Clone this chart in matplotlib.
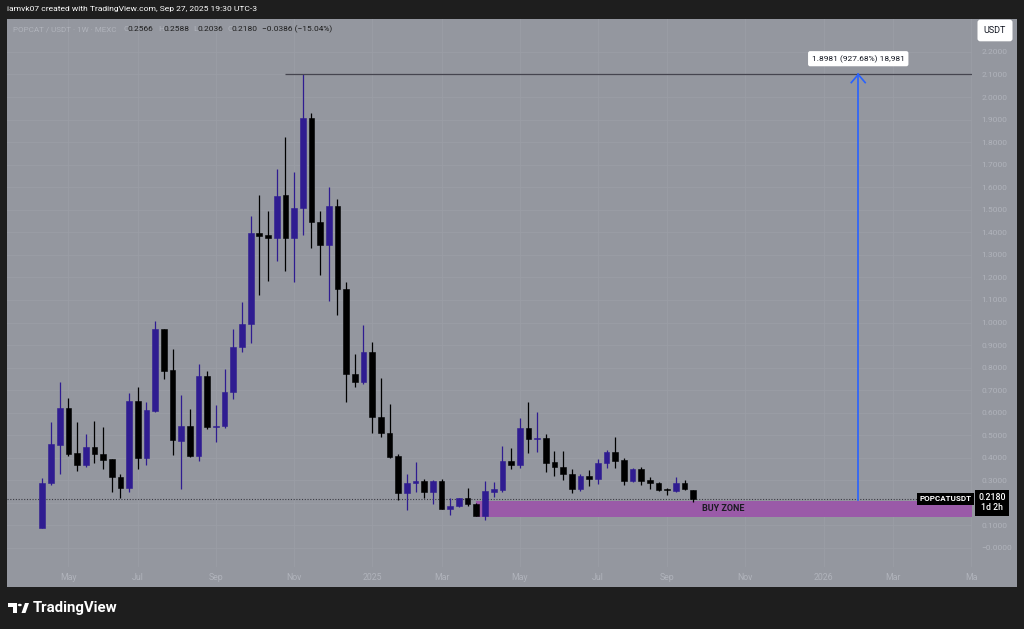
import numpy as np
import pandas as pd
import matplotlib
matplotlib.use("Agg")
import matplotlib.pyplot as plt
import matplotlib.dates as mdates
from matplotlib.patches import Rectangle, Polygon, Circle

plt.rcParams['font.family'] = ['Roboto', 'DejaVu Sans']

# weekly POPCAT / USDT candles (MEXC)
first_week = "2024-04-15"
opens = [0.090, 0.287, 0.458, 0.621, 0.420, 0.367, 0.449, 0.418, 0.393, 0.316,
         0.265, 0.652, 0.400, 0.609, 0.970, 0.788, 0.474, 0.542, 0.408, 0.764,
         0.536, 0.541, 0.692, 0.893, 0.992, 1.398, 1.387, 1.376, 1.567, 1.376,
         1.509, 1.906, 1.447, 1.344, 1.518, 1.147, 0.770, 0.735, 0.868, 0.582,
         0.511, 0.408, 0.245, 0.287, 0.298, 0.247, 0.296, 0.174, 0.186, 0.220,
         0.195, 0.142, 0.250, 0.257, 0.387, 0.367, 0.531, 0.483, 0.487, 0.380,
         0.361, 0.327, 0.262, 0.319, 0.306, 0.378, 0.424, 0.390, 0.298, 0.349,
         0.302, 0.287, 0.260, 0.254, 0.287, 0.2566]
highs = [0.309, 0.560, 0.735, 0.664, 0.559, 0.506, 0.565, 0.538, 0.395, 0.327,
         0.686, 0.715, 0.646, 1.007, 0.972, 0.882, 0.678, 0.616, 0.815, 0.786,
         0.634, 0.792, 0.971, 1.091, 1.472, 1.565, 1.494, 1.682, 1.821, 1.669,
         2.102, 1.931, 1.494, 1.602, 1.546, 1.181, 0.859, 0.989, 0.912, 0.755,
         0.639, 0.416, 0.327, 0.383, 0.306, 0.302, 0.305, 0.220, 0.222, 0.267,
         0.200, 0.297, 0.294, 0.454, 0.445, 0.578, 0.646, 0.602, 0.506, 0.431,
         0.430, 0.349, 0.327, 0.346, 0.395, 0.435, 0.494, 0.398, 0.353, 0.360,
         0.313, 0.291, 0.267, 0.316, 0.302, 0.2588]
lows = [0.088, 0.279, 0.328, 0.410, 0.341, 0.358, 0.376, 0.349, 0.247, 0.223,
        0.247, 0.349, 0.369, 0.604, 0.749, 0.412, 0.262, 0.402, 0.387, 0.528,
        0.471, 0.532, 0.662, 0.870, 0.908, 1.121, 1.183, 1.274, 1.230, 1.181,
        1.388, 1.329, 1.211, 1.097, 1.033, 0.649, 0.715, 0.726, 0.509, 0.494,
        0.398, 0.213, 0.169, 0.247, 0.223, 0.194, 0.172, 0.145, 0.180, 0.188,
        0.140, 0.124, 0.227, 0.250, 0.350, 0.356, 0.423, 0.427, 0.336, 0.321,
        0.302, 0.245, 0.253, 0.276, 0.284, 0.356, 0.353, 0.279, 0.291, 0.279,
        0.262, 0.254, 0.235, 0.250, 0.257, 0.2036]
closes = [0.290, 0.461, 0.621, 0.417, 0.367, 0.449, 0.418, 0.390, 0.315, 0.265,
          0.652, 0.400, 0.611, 0.970, 0.786, 0.478, 0.542, 0.408, 0.764, 0.535,
          0.541, 0.693, 0.893, 0.992, 1.398, 1.384, 1.373, 1.561, 1.376, 1.509,
          1.906, 1.447, 1.344, 1.518, 1.147, 0.770, 0.735, 0.868, 0.582, 0.511,
          0.405, 0.245, 0.287, 0.298, 0.247, 0.296, 0.174, 0.186, 0.220, 0.195,
          0.142, 0.253, 0.260, 0.387, 0.367, 0.531, 0.483, 0.487, 0.378, 0.361,
          0.327, 0.262, 0.319, 0.306, 0.378, 0.424, 0.387, 0.298, 0.349, 0.298,
          0.290, 0.257, 0.256, 0.287, 0.260, 0.2180]

month_ticks = ["2024-05-06", "2024-07-01", "2024-09-02", "2024-11-04", "2025-01-06",
               "2025-03-03", "2025-05-05", "2025-07-07", "2025-09-01", "2025-11-03",
               "2026-01-05", "2026-03-02", "2026-05-04"]
month_labels = ["May", "Jul", "Sep", "Nov", "2025", "Mar", "May", "Jul", "Sep",
                "Nov", "2026", "Mar", "Ma"]
price_ticks = [0.0, 0.1, 0.2, 0.3, 0.4, 0.5, 0.6, 0.7, 0.8, 0.9, 1.0, 1.1,
               1.2, 1.3, 1.4, 1.5, 1.6, 1.7, 1.8, 1.9, 2.0, 2.1, 2.2]
price_labels = ["\u22120.0000", "0.1000", ""] + ["%.4f" % v for v in price_ticks[3:]]

last_price = 0.2180
target_price = 2.1
target_start = "2024-10-28"
arrow_date = "2026-02-02"
arrow_base = 0.213
zone_start = "2025-03-31"
zone_low, zone_high = 0.139, 0.208
zone_label_date = "2025-10-16"

W, H = 1024, 629
BG = "#94979f"
BULL = "#2f1c91"
BEAR = "#000000"
FAINT = "#b0b3bb"

fig = plt.figure(figsize=(W / 100, H / 100), dpi=100, facecolor="#1e1e1e")


def fx(x):
    return x / W


def fy(y):
    return 1 - y / H


# chart panel background
fig.patches.append(Rectangle((fx(7), fy(587)), fx(1017 - 7), (587 - 19) / H,
                             transform=fig.transFigure, facecolor=BG,
                             edgecolor="none", zorder=-5))

ax = fig.add_axes([fx(7), fy(567), fx(965), 548 / H])
ax.set_zorder(2)
ax.set_facecolor("none")
for s in ax.spines.values():
    s.set_visible(False)

dates = mdates.date2num(pd.date_range(first_week, periods=len(opens), freq="7D"))
o = np.array(opens)
c = np.array(closes)
cols = [BULL if cc >= oo else BEAR for oo, cc in zip(o, c)]

ax.vlines(dates, lows, highs, colors=cols, lw=0.9, zorder=3)
ax.bar(dates, np.maximum(np.abs(c - o), 0.003), bottom=np.minimum(o, c), width=4.6,
       color=cols, edgecolor=cols, lw=0.4, zorder=4)

x0 = mdates.date2num(pd.Timestamp("2024-03-17 12:00"))
x1 = mdates.date2num(pd.Timestamp("2026-05-04 18:00"))
ax.set_xlim(x0, x1)
ax.set_ylim(-0.0843, 2.346)

ax.set_xticks(mdates.date2num(pd.to_datetime(month_ticks)))
ax.set_xticklabels(month_labels)
ax.set_yticks(price_ticks)
ax.set_yticklabels(price_labels)
ax.yaxis.tick_right()
ax.tick_params(axis="y", length=0, pad=7, labelsize=6, labelcolor=FAINT)
ax.tick_params(axis="x", length=0, pad=4, labelsize=6.3, labelcolor=FAINT)
ax.grid(True, color="#9b9ea6", lw=0.6, zorder=0)

# buy zone
zs = mdates.date2num(pd.Timestamp(zone_start))
ax.add_patch(Rectangle((zs, zone_low), x1 - zs, zone_high - zone_low,
                       facecolor="#9a5aa8", edgecolor="none", zorder=2))
ax.text(mdates.date2num(pd.Timestamp(zone_label_date)), (zone_low + zone_high) / 2,
        "BUY ZONE", ha="center", va="center", fontsize=6.5, fontweight="bold",
        color="#1c1c24", zorder=5)

# current price dotted line
ax.axhline(last_price, xmin=0, xmax=(920 - 7) / 965, color="#3a3a42",
           lw=0.8, ls=(0, (1, 1.5)), zorder=2)

# target line and measuring arrow
ts = mdates.date2num(pd.Timestamp(target_start))
ax.hlines(target_price, ts, x1, color="#45454f", lw=0.9, zorder=3)
ad = mdates.date2num(pd.Timestamp(arrow_date))
ax.plot([ad, ad], [arrow_base, target_price], color="#2962ff", lw=1.2, zorder=5)
ax.plot([ad - 5.6, ad, ad + 5.6], [target_price - 0.036, target_price, target_price - 0.036],
        color="#2962ff", lw=1.2, zorder=5)
ax.text(ad, 2.17, "1.8981 (927.68%) 18,981", ha="center", va="center", fontsize=6,
        color="#131722", zorder=6,
        bbox=dict(boxstyle="round,pad=0.45,rounding_size=0.25", fc="white", ec="none"))

# price scale labels
yt = ax.get_yaxis_transform()
ax.text(0.9995, last_price + 0.001, "POPCATUSDT", transform=yt, ha="right", va="center",
        fontsize=5.8, fontweight="bold", color="white", clip_on=False, zorder=7,
        bbox=dict(boxstyle="square,pad=0.3", fc="black", ec="none"))
ax.text(1.0205, 0.2435, "0.2180\n1d 2h", transform=yt, ha="center", va="top",
        fontsize=6.3, fontweight="medium", color="white", linespacing=1.2,
        clip_on=False, zorder=7,
        bbox=dict(boxstyle="square,pad=0.35", fc="black", ec="none"))
fig.text(fx(995), fy(30.5), "USDT", ha="center", va="center", fontsize=6.5,
         color="#131722",
         bbox=dict(boxstyle="round,pad=0.7,rounding_size=0.3", fc="white", ec="none"))

# header
fig.text(fx(7), fy(9.5), "iamvk07 created with TradingView.com, Sep 27, 2025 19:30 UTC-3",
         ha="left", va="center", fontsize=6.1, color="white")
legend_y = fy(29)
fig.text(fx(13), legend_y, "POPCAT / USDT \u00b7 1W \u00b7 MEXC", ha="left", va="center",
         fontsize=5.8, color=FAINT)
for xp, txt, col in [(123, "O", FAINT), (128, "0.2566", "#1e1e1e"),
                     (158, "H", FAINT), (163, "0.2588", "#1e1e1e"),
                     (193, "L", FAINT), (198, "0.2036", "#1e1e1e"),
                     (227, "C", FAINT), (232, "0.2180", "#1e1e1e"),
                     (262, "\u22120.0386 (\u221215.04%)", "#1e1e1e")]:
    fig.text(fx(xp), legend_y, txt, ha="left", va="center", fontsize=6.0, color=col)

# footer logo
logo = [Polygon([(fx(8), fy(603)), (fx(17), fy(603)), (fx(17), fy(613)), (fx(13), fy(613)),
                 (fx(13), fy(607)), (fx(8), fy(607))]),
        Circle((fx(19.8), fy(605)), 2.0 / W),
        Polygon([(fx(21.5), fy(613)), (fx(25), fy(603)), (fx(29), fy(603)), (fx(25.5), fy(613))])]
for p in logo:
    p.set_transform(fig.transFigure)
    p.set_facecolor("white")
    p.set_edgecolor("none")
    fig.patches.append(p)
fig.text(fx(33), fy(608), "TradingView", ha="left", va="center", fontsize=10.8,
         fontweight="bold", color="white")

fig.savefig("out.png", dpi=100, facecolor=fig.get_facecolor())
